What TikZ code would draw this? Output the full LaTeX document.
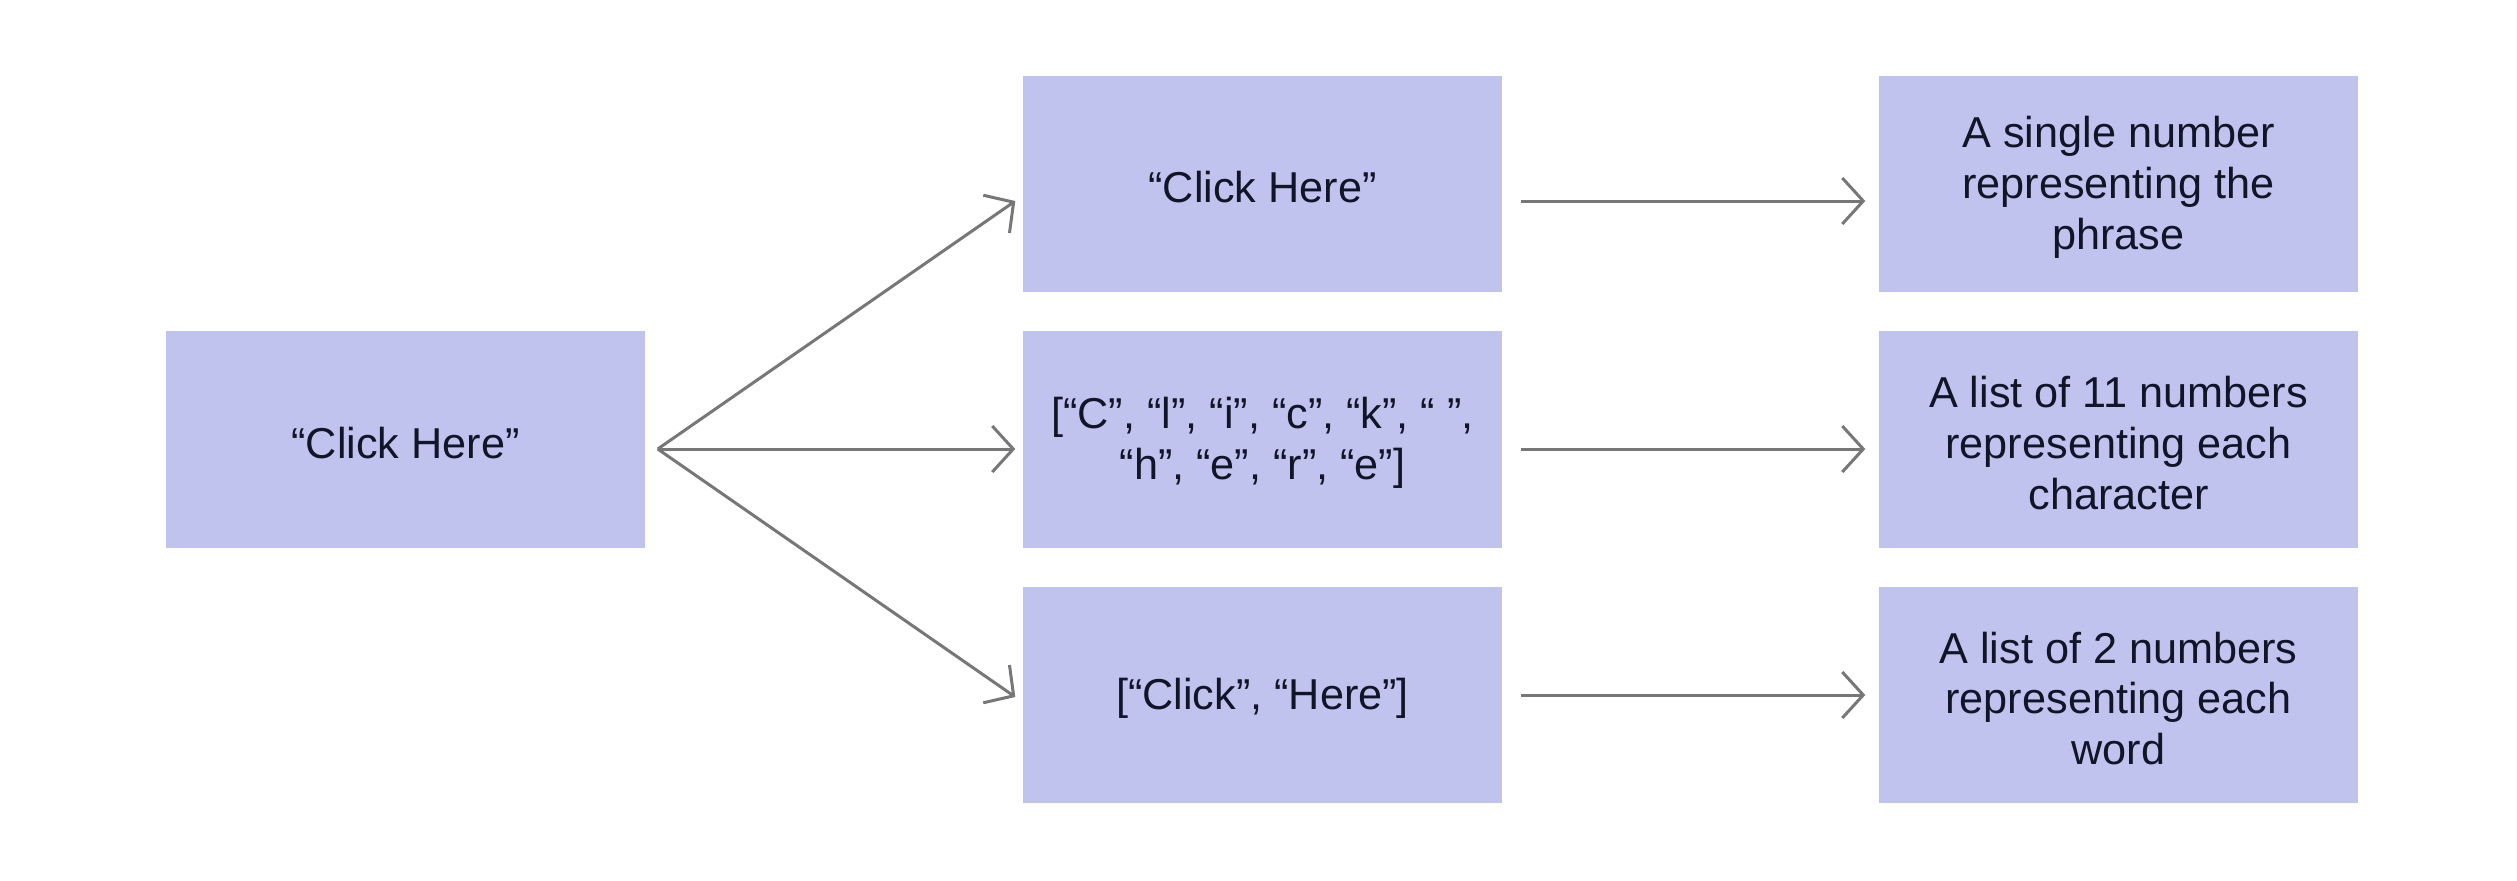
\documentclass[tikz,border=0pt]{standalone}
\usepackage{fontspec}
\setmainfont{Liberation Sans}
\usetikzlibrary{arrows.meta,calc}
\definecolor{boxfill}{HTML}{C1C3EF}
\definecolor{boxtext}{HTML}{101528}
\definecolor{arrowgray}{HTML}{777777}
\tikzset{
  databox/.style={rectangle, fill=boxfill, draw=none, inner sep=0pt,
    minimum width=4.79cm, minimum height=2.165cm},
  boxlabel/.style={inner sep=0pt, align=center, text=boxtext,
    font=\fontsize{12.3pt}{14.5pt}\selectfont},
  flow/.style={draw=arrowgray, line width=0.03cm,
    -{Straight Barb[length=0.21cm,width=0.46cm,line width=0.03cm]}}
}
\begin{document}
\begin{tikzpicture}
\useasboundingbox (0,0) rectangle (25.17,-8.80);
\node[databox] (L) at (4.055,-4.395) {};
\node[databox] (M1) at (12.625,-1.84) {};
\node[databox] (M2) at (12.625,-4.395) {};
\node[databox] (M3) at (12.625,-6.95) {};
\node[databox] (R1) at (21.185,-1.84) {};
\node[databox] (R2) at (21.185,-4.395) {};
\node[databox] (R3) at (21.185,-6.95) {};
\node[boxlabel] (Lt) at ($(L.center)+(0,-0.035)$) {“Click Here”};
\node[boxlabel] (M1t) at ($(M1.center)+(0,-0.035)$) {“Click Here”};
\node[boxlabel] (M2t) at ($(M2.center)+(0,-0.035)$) {[“C”, “l”, “i”, “c”, “k”, “ ”,\\“h”, “e”, “r”, “e”]};
\node[boxlabel] (M3t) at ($(M3.center)+(0,-0.035)$) {[“Click”, “Here”]};
\node[boxlabel] (R1t) at ($(R1.center)+(0,-0.035)$) {A single number\\representing the\\phrase};
\node[boxlabel] (R2t) at ($(R2.center)+(0,-0.035)$) {A list of 11 numbers\\representing each\\character};
\node[boxlabel] (R3t) at ($(R3.center)+(0,-0.035)$) {A list of 2 numbers\\representing each\\word};
\coordinate (O) at ($(L.east)+(0.12,-0.095)$);
\coordinate (M1in) at ($(M1.west)+(-0.07,-0.17)$);
\coordinate (M2in) at ($(M2.west)+(-0.07,-0.095)$);
\coordinate (M3in) at ($(M3.west)+(-0.07,-0.02)$);
\coordinate (M1out) at ($(M1.east)+(0.18,-0.17)$);
\coordinate (M2out) at ($(M2.east)+(0.18,-0.095)$);
\coordinate (M3out) at ($(M3.east)+(0.18,0)$);
\coordinate (R1in) at ($(R1.west)+(-0.13,-0.17)$);
\coordinate (R2in) at ($(R2.west)+(-0.13,-0.095)$);
\coordinate (R3in) at ($(R3.west)+(-0.13,0)$);
\draw[flow] (O) -- (M1in);
\draw[flow] (O) -- (M2in);
\draw[flow] (O) -- (M3in);
\draw[flow] (M1out) -- (R1in);
\draw[flow] (M2out) -- (R2in);
\draw[flow] (M3out) -- (R3in);
\end{tikzpicture}
\end{document}
